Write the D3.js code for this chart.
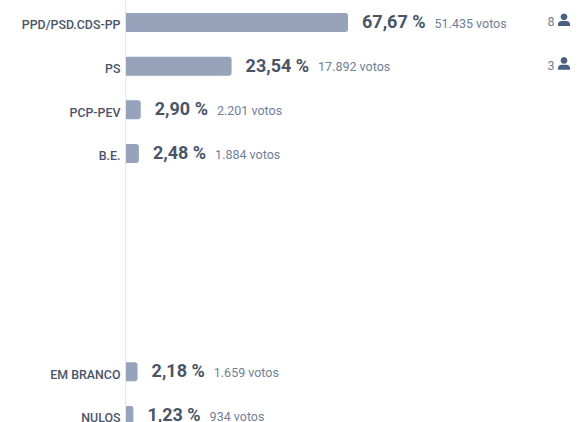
<!DOCTYPE html>
<html><head><meta charset="utf-8">
<script src="https://cdn.jsdelivr.net/npm/d3@7/dist/d3.min.js"></script>
<style>html,body{margin:0;padding:0;background:#fff;overflow:hidden}svg{display:block}text{font-family:Roboto,sans-serif}</style>
</head><body><svg id="c" width="588" height="422"></svg>
<script>
const parties=["PPD/PSD.CDS-PP","PS","PCP-PEV","B.E.","EM BRANCO","NULOS"];
const rowIndex=[0,1,2,3,8,9];
const percent=[67.67,23.54,2.90,2.48,2.18,1.23];
const percentLabels=["67,67 %","23,54 %","2,90 %","2,48 %","2,18 %","1,23 %"];
const voteLabels=["51.435 votos","17.892 votos","2.201 votos","1.884 votos","1.659 votos","934 votos"];
const seats=[8,3,0,0,0,0];

const svg=d3.select("#c");
const x=d3.scaleLinear().domain([0,50]).range([126,346]).clamp(true);
const y=d3.scaleLinear().domain([0,9]).range([22.5,415.5]);
const barH=19;
const rows=parties.map((p,i)=>({p,r:rowIndex[i],v:percent[i],pl:percentLabels[i],vl:voteLabels[i],s:seats[i]}));

svg.append("line").attr("x1",125.5).attr("x2",125.5).attr("y1",0).attr("y2",422).attr("stroke","#e2e8f0");

const g=svg.selectAll("g.row").data(rows).join("g").attr("class","row");
g.append("path").attr("fill","#97a3ba").attr("d",d=>{
  const x0=x(0),x1=x(d.v)+2,t=y(d.r)-barH/2,b=t+barH,r=3;
  return `M${x0},${t}H${x1-r}Q${x1},${t} ${x1},${t+r}V${b-r}Q${x1},${b} ${x1-r},${b}H${x0}Z`;
});
g.append("text").attr("x",120.5).attr("y",d=>y(d.r)+6.8).attr("text-anchor","end")
 .attr("font-size",12.4).attr("font-weight",500).attr("fill","#4a5568").text(d=>d.p);
const pct=g.append("text").attr("x",d=>x(d.v)+2+14).attr("y",d=>y(d.r)+5.5)
 .attr("font-size",18).attr("font-weight",700).attr("fill","#4a5568").text(d=>d.pl);
g.append("text").attr("y",d=>y(d.r)+5.2).attr("font-size",12.5).attr("fill","#718096")
 .attr("x",function(d,i){return pct.nodes()[i].getComputedTextLength()+(x(d.v)+2+14)+9;}).text(d=>d.vl);

const seated=g.filter(d=>d.s>0);
seated.append("text").attr("x",554.5).attr("y",d=>y(d.r)+3.5).attr("text-anchor","end")
 .attr("font-size",12.5).attr("fill","#718096").text(d=>d.s);
seated.append("path").attr("fill","#4a5f7f")
 .attr("transform",d=>`translate(564,${y(d.r)-2.5})`)
 .attr("d","M0,-6.6a3.4,3.4 0 1,1 -0.01,0Z M-6,6v-1.6c0,-2.2 1.6,-3.4 3.6,-3.4h4.8c2,0 3.6,1.2 3.6,3.4v1.6Z");
</script></body></html>
